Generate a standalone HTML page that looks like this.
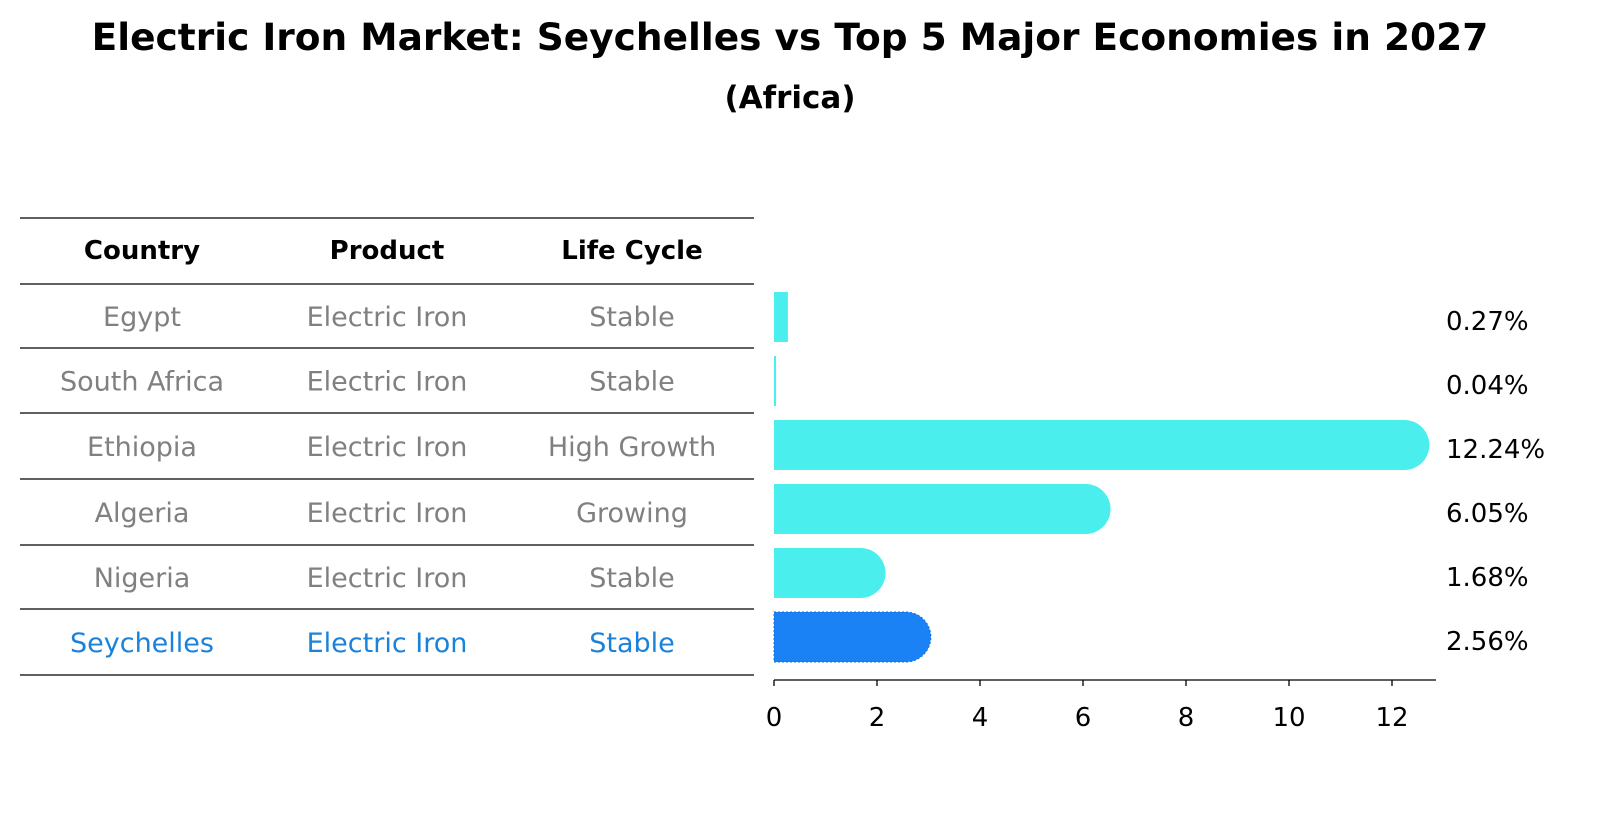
<!DOCTYPE html>
<html><head><meta charset="utf-8">
<style>
body{margin:0;background:#fff;font-family:"Liberation Sans","DejaVu Sans",sans-serif;}
svg text{font-family:"DejaVu Sans","Liberation Sans",sans-serif;}
</style></head>
<body>
<svg id="chart" width="1604" height="823" viewBox="0 0 1604 823">
<text x="790" y="50" text-anchor="middle" font-size="37.5" font-weight="bold">Electric Iron Market: Seychelles vs Top 5 Major Economies in 2027</text>
<text x="790" y="108" text-anchor="middle" font-size="31" font-weight="bold">(Africa)</text>
<g id="table"></g>
<g id="bars"></g>
</svg>
<script>
const countries=["Egypt","South Africa","Ethiopia","Algeria","Nigeria","Seychelles"];
const products=["Electric Iron","Electric Iron","Electric Iron","Electric Iron","Electric Iron","Electric Iron"];
const lifeCycles=["Stable","Stable","High Growth","Growing","Stable","Stable"];
const growthValues=[0.27,0.04,12.24,6.05,1.68,2.56];
const xTicks=[0,2,4,6,8,10,12];

const NS="http://www.w3.org/2000/svg";
function mk(tag,attrs,parent,text){const e=document.createElementNS(NS,tag);for(const k in attrs)e.setAttribute(k,attrs[k]);if(text!==undefined)e.textContent=text;parent.appendChild(e);return e;}
const table=document.getElementById('table');
const bars=document.getElementById('bars');
const lineYs=[218,284,348,413,479,545,609,675];
const colX=[142,387,632];
lineYs.forEach((y,i)=>{
  const l=mk('line',{x1:20,x2:754,y1:y,y2:y,stroke:'#000','stroke-width':1.2},table);
  
  
});
["Country","Product","Life Cycle"].forEach((h,i)=>{
  const t=mk('text',{x:colX[i],y:259,'text-anchor':'middle','font-size':26,'font-weight':'bold'},table,h);
  
  
});
const rowY=i=>(lineYs[i+1]+lineYs[i+2])/2+10;
countries.forEach((c,i)=>{
  const col=i===countries.length-1?'#1a82d9':'#808080';
  [c,products[i],lifeCycles[i]].forEach((v,j)=>{
    const t=mk('text',{x:colX[j],y:rowY(i),'text-anchor':'middle','font-size':27,fill:col},table,v);
    
    
  });
});
const x0=774,pxPer=51.5;
const xs=v=>x0+v*pxPer;
const barCY=i=>317+i*64;
const bh=50,r=25;
growthValues.forEach((v,i)=>{
  const last=i===growthValues.length-1;
  const fill=last?'#1a82f5':'#4aeeec';
  const w=Math.max(xs(v)-x0,1.5);
  let d;
  const y=barCY(i)-bh/2;
  if(w>2*r){
    d=`M${x0},${y}H${x0+w}A${r},${r} 0 0 1 ${x0+w},${y+bh}H${x0}Z`;
  } else d=`M${x0},${y}H${x0+w}V${y+bh}H${x0}Z`;
  const p=mk('path',{d:d,fill:fill},bars);
  if(last){p.setAttribute('stroke','#0f6fe0');p.setAttribute('stroke-dasharray','2,2');}
  
  
  const t=mk('text',{x:1446,y:barCY(i)+13,'font-size':26},bars,growthValues[i].toFixed(2)+'%');
  
  
});
const ax=mk('line',{x1:x0,x2:1436,y1:680,y2:680,stroke:'#000','stroke-width':1.3},bars);


xTicks.forEach(v=>{
  const tk=mk('line',{x1:xs(v),x2:xs(v),y1:680,y2:686,stroke:'#000','stroke-width':1.3},bars);
  
  
  const t=mk('text',{x:xs(v),y:726,'text-anchor':'middle','font-size':26},bars,String(v));
  
  
});
</script>
</body></html>
